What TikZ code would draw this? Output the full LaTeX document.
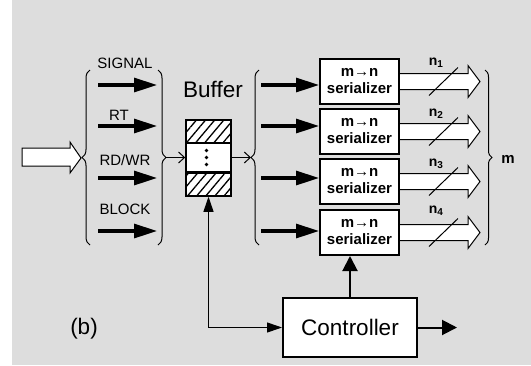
\documentclass[tikz,border=0pt]{standalone}
\usepackage{fontspec}
\setmainfont{Liberation Sans}
\usetikzlibrary{arrows.meta,decorations.pathreplacing,patterns.meta,calc}
\definecolor{bgc}{RGB}{221,221,221}
\begin{document}
\begin{tikzpicture}[x=1pt,y=-1pt,
  thickarr/.style={line width=3.2pt,-{Triangle[length=23pt,width=14pt]}},
  midarr/.style={line width=2pt,-{Triangle[length=15pt,width=15pt]}},
  thinarr/.style={line width=1pt,{Triangle[length=15pt,width=10pt]}-{Triangle[length=15pt,width=10pt]}},
  openarr/.style={line width=1pt,-{Straight Barb[length=6pt,width=11pt]}},
  brc/.style={line width=1pt,decorate,decoration={brace,amplitude=8pt}},
  hollow/.style={line width=1pt,fill=white},
  sbox/.style={draw,line width=2pt,fill=white,minimum width=79pt,minimum height=45pt,inner sep=0pt,align=center,font=\fontsize{15}{17}\selectfont\bfseries},
  lbl/.style={anchor=base,inner sep=0pt,font=\fontsize{15}{15}\selectfont},
  nlbl/.style={anchor=base,inner sep=0pt,font=\fontsize{14}{14}\selectfont\bfseries},
  big/.style={anchor=base,inner sep=0pt,font=\fontsize{22.5}{22.5}\selectfont},
  bufcell/.style={draw,line width=1.5pt,fill=white,minimum width=45pt,inner sep=0pt},
  hatch/.style={preaction={fill=white},pattern={Lines[angle=50,distance=7pt,line width=1.3pt]}},
]
\useasboundingbox (0,0) rectangle (531,365);
\fill[bgc] (12,0) rectangle (531,365);

% input hollow arrow
\draw[hollow] (22,148) -- (70,148) -- (70,142) -- (81,158) -- (70,173) -- (70,166) -- (22,166) -- cycle;

% left group braces
\draw[brc] (90,245) -- (90,70);
\draw[brc] (158,70) -- (158,245);

% labels and thick arrows, left group
\node[lbl] (lsig) at (125,68) {SIGNAL};
\node[lbl] (lrt) at (119,120) {RT};
\node[lbl] (lrd) at (125,165) {RD/WR};
\node[lbl] (lblk) at (125,214) {BLOCK};
\coordinate (a1s) at (98,85);  \coordinate (a1e) at (157,85);
\coordinate (a2s) at (98,126); \coordinate (a2e) at (157,126);
\coordinate (a3s) at (98,178); \coordinate (a3e) at (157,178);
\coordinate (a4s) at (98,231); \coordinate (a4e) at (157,231);
\draw[thickarr] (a1s) -- (a1e);
\draw[thickarr] (a2s) -- (a2e);
\draw[thickarr] (a3s) -- (a3e);
\draw[thickarr] (a4s) -- (a4e);

% buffer
\node[big] (buflbl) at (213,97) {Buffer};
\node[bufcell,minimum height=23pt,hatch] (buf1) at (208.5,131.5) {};
\node[bufcell,minimum height=29pt] (buf2) at (208.5,157.5) {};
\node[bufcell,minimum height=24pt,hatch] (buf3) at (208.5,184) {};
\draw[line width=1.5pt] (buf1.south west) -- (buf1.south east) (buf2.south west) -- (buf2.south east);
\fill ($(buf2.center)+(-2,-7)$) circle (1.8pt);
\fill ($(buf2.center)+(-2,0)$) circle (1.8pt);
\fill ($(buf2.center)+(-2,7)$) circle (1.8pt);

\coordinate (lbt) at (166,157.5);
\coordinate (rbt) at (251,157.5);
\draw[openarr] (lbt) -- (buf2.west);
\draw[openarr] (buf2.east) -- (rbt);

% right group brace
\draw[brc] (259,245) -- (259,70);

% serializers
\node[sbox] (ser1) at (359.5,81.5) {m→n\\serializer};
\node[sbox] (ser2) at (359.5,131.5) {m→n\\serializer};
\node[sbox] (ser3) at (359.5,181.5) {m→n\\serializer};
\node[sbox] (ser4) at (359.5,232.5) {m→n\\serializer};

\coordinate (b1s) at (261,85);
\coordinate (b2s) at (261,126);
\coordinate (b3s) at (261,178);
\coordinate (b4s) at (261,231);
\draw[thickarr] (b1s) -- (b1s -| ser1.west);
\draw[thickarr] (b2s) -- (b2s -| ser2.west);
\draw[thickarr] (b3s) -- (b3s -| ser3.west);
\draw[thickarr] (b4s) -- (b4s -| ser4.west);

% hollow output arrows with slashes
\foreach \s in {ser1,ser2,ser3,ser4}{
  \draw[hollow] (\s.east) ++(0,-8) -- ++(68,0) -- ++(0,-8) -- ++(12,16) -- ++(-12,16) -- ++(0,-8) -- ++(-68,0);
  \draw[line width=1pt] (\s.east) ++(29,14) -- ++(29,-28);
}
\node[nlbl] (n1) at (436,65) {n\raisebox{-2.5pt}{\fontsize{10}{10}\selectfont 1}};
\node[nlbl] (n2) at (436,116) {n\raisebox{-2.5pt}{\fontsize{10}{10}\selectfont 2}};
\node[nlbl] (n3) at (436,166) {n\raisebox{-2.5pt}{\fontsize{10}{10}\selectfont 3}};
\node[nlbl] (n4) at (436,213) {n\raisebox{-2.5pt}{\fontsize{10}{10}\selectfont 4}};

% right big brace
\draw[line width=1pt,decorate,decoration={brace,amplitude=7pt}] (485,70) -- (485,245);
\node[nlbl,font=\fontsize{15}{15}\selectfont\bfseries] (mlbl) at (508,163) {m};

% controller
\node[draw,line width=2pt,fill=white,minimum width=134pt,minimum height=59pt,inner sep=0pt,font=\fontsize{22.5}{22.5}\selectfont] (ctrl) at (350,327.5) {Controller};
\draw[midarr] (ctrl.north) -- (ctrl.north |- ser4.south);
\coordinate (cout) at (457,327.5);
\draw[midarr] (ctrl.east) -- (cout);
\draw[thinarr] (buf3.south) |- (ctrl.west);

\node[big] (blbl) at (84,334) {(b)};
\end{tikzpicture}
\end{document}
